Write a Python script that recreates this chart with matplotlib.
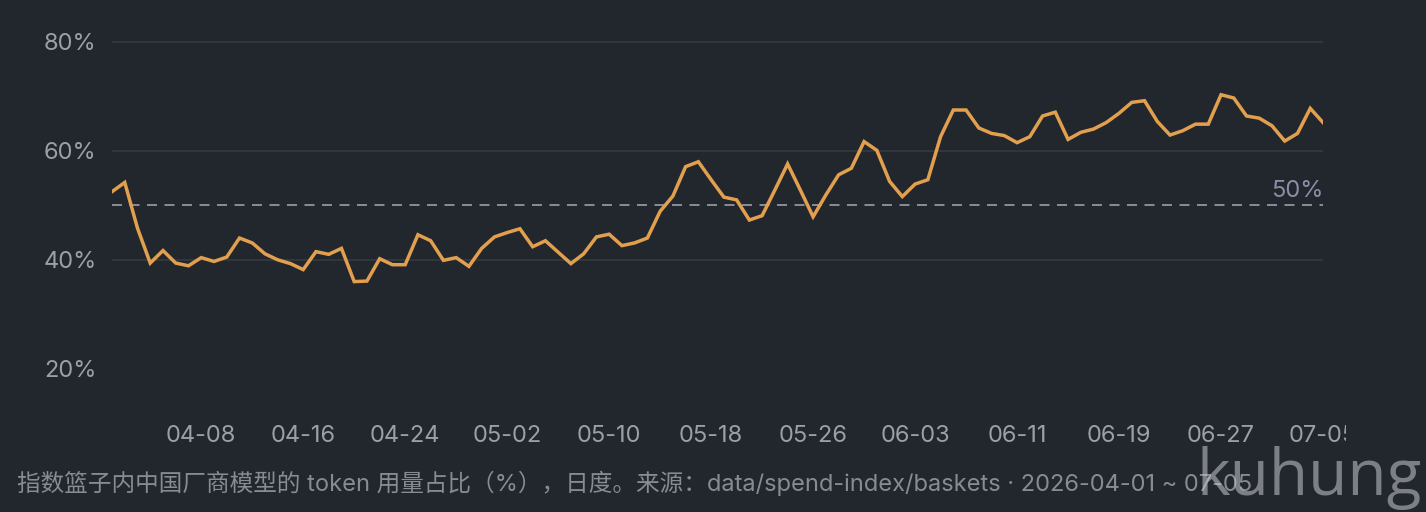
import matplotlib
matplotlib.use("Agg")
import matplotlib.pyplot as plt
import matplotlib.dates as mdates
from matplotlib.transforms import Bbox
import numpy as np
import pandas as pd

plt.rcParams['font.family'] = ['Inter', 'Noto Sans CJK SC', 'DejaVu Sans']

start_date = "2026-04-01"
end_date = "2026-07-05"
share_pct = [
    52.5, 54.2, 45.8, 39.4, 41.7, 39.4, 38.9, 40.4, 39.7, 40.5,
    44.0, 43.1, 41.1, 40.0, 39.3, 38.2, 41.5, 41.0, 42.1, 36.0,
    36.1, 40.2, 39.1, 39.1, 44.6, 43.5, 39.9, 40.4, 38.8, 42.1,
    44.2, 45.0, 45.7, 42.4, 43.5, 41.4, 39.3, 41.1, 44.2, 44.7,
    42.6, 43.1, 44.0, 48.9, 51.7, 57.1, 58.0, 54.7, 51.5, 51.0,
    47.3, 48.1, 52.8, 57.6, 52.8, 47.9, 51.9, 55.6, 56.8, 61.7,
    60.1, 54.4, 51.6, 53.9, 54.7, 62.6, 67.5, 67.5, 64.2, 63.2,
    62.8, 61.5, 62.6, 66.4, 67.1, 62.1, 63.4, 64.0, 65.2, 66.9,
    68.9, 69.2, 65.4, 62.9, 63.7, 64.9, 64.9, 70.3, 69.7, 66.4,
    66.0, 64.6, 61.8, 63.2, 67.8, 65.2,
]
threshold = 50
threshold_label = "50%"
y_ticks = [20, 40, 60, 80]
y_tick_labels = ["20%", "40%", "60%", "80%"]
x_tick_labels = ["04-08", "04-16", "04-24", "05-02", "05-10", "05-18",
                 "05-26", "06-03", "06-11", "06-19", "06-27", "07-05"]
footer = "指数篮子内中国厂商模型的 token 用量占比（%），日度。来源：data/spend-index/baskets · 2026-04-01 ~ 07-05"
watermark = "kuhung"

dates = pd.date_range(start_date, end_date, freq="D")
tick_dates = pd.to_datetime(["2026-" + s for s in x_tick_labels])

BG = "#22262d"
GRID = "#353a40"
LINE = "#e2a04f"
TICK = "#9aa0a7"

W, H = 1426, 512
fig = plt.figure(figsize=(W / 100, H / 100), dpi=100, facecolor=BG)
ax = fig.add_axes([112 / W, 1 - 396 / H, (1323 - 112) / W, (396 - 31) / H])
ax.set_facecolor(BG)

ax.plot(dates, share_pct, color=LINE, lw=2.5, solid_joinstyle="miter", zorder=3)
ax.axhline(threshold, color="#9ba0a8", lw=1.2, ls=(0, (6, 4.5)), zorder=2)
ax.text(dates[-1], threshold + 0.7, threshold_label, ha="right", va="bottom",
        color="#8a8ea8", fontsize=17)

ax.set_xlim(dates[0], dates[-1])
ax.set_ylim(15, 82)
ax.set_yticks(y_ticks)
ax.set_yticklabels(y_tick_labels)
ax.set_xticks(tick_dates)
ax.set_xticklabels(x_tick_labels)

ax.yaxis.grid(True, color=GRID, lw=1.2)
for gl, v in zip(ax.yaxis.get_gridlines(), y_ticks):
    if v == 20:
        gl.set_visible(False)
ax.tick_params(axis="both", length=0, colors=TICK, labelsize=17)
ax.tick_params(axis="y", pad=11)
ax.tick_params(axis="x", pad=21)
for s in ax.spines.values():
    s.set_visible(False)

clip = Bbox([[0, 0], [1346, H]])
for lab in ax.get_xticklabels():
    lab.set_clip_box(clip)
    lab.set_clip_on(True)

fig.text(17 / W, 1 - 483 / H, footer, ha="left", va="center", color="#878c93",
         fontsize=17)
fig.text(1422 / W, 1 - 478 / H, watermark, ha="right", va="center",
         color="#c8cacd", alpha=0.55, fontsize=46,
         family=["Liberation Sans Narrow", "Open Sans", "DejaVu Sans"])

fig.savefig("out.png", dpi=100, facecolor=BG)
